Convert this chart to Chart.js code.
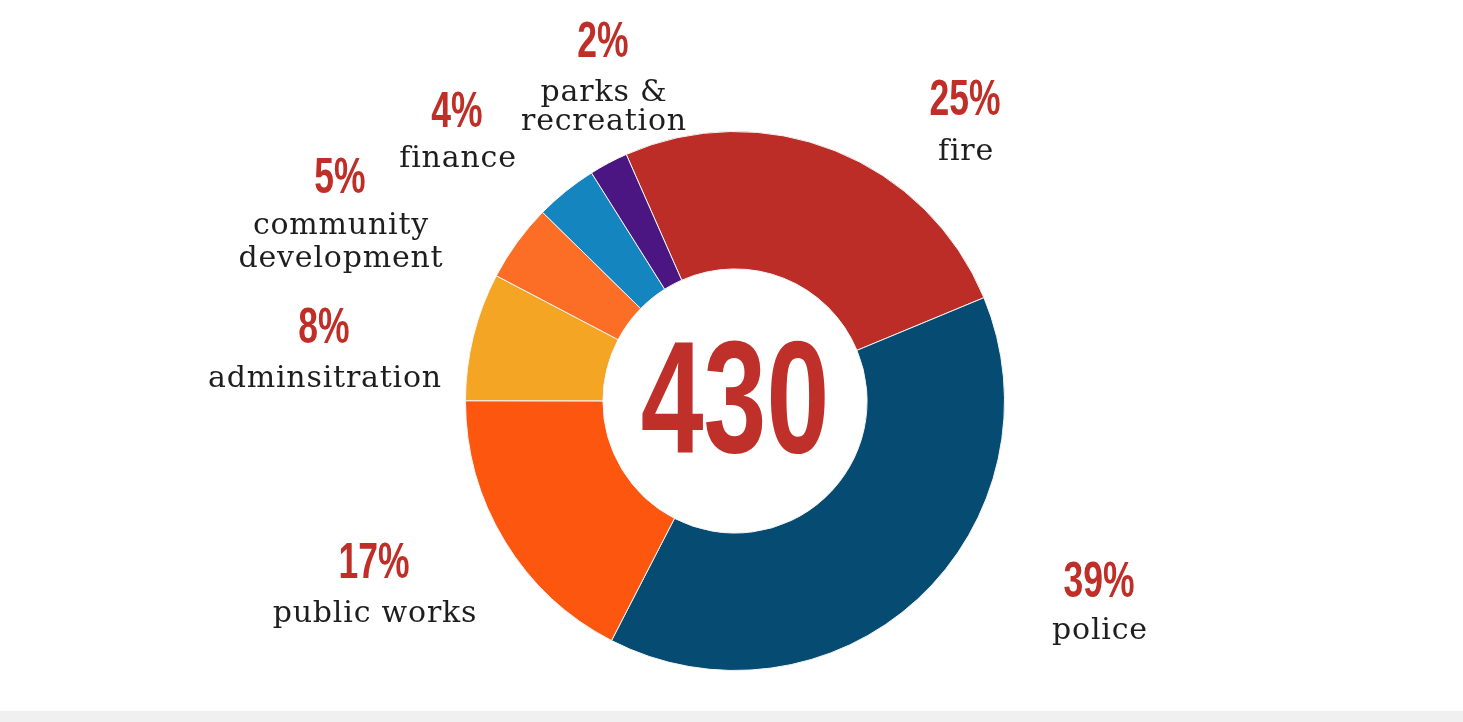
<!DOCTYPE html>
<html>
<head>
<meta charset="utf-8">
<script src="https://cdn.jsdelivr.net/npm/chart.js@4/dist/chart.umd.min.js"></script>
<style>
    html, body { margin: 0; padding: 0; background: #f0f0f0; }
    #wrap { width: 1463px; height: 711px; background: #ffffff; }
</style>
</head>
<body>
<div id="wrap"><canvas id="myChart" width="1463" height="711"></canvas></div>
<script>
"use strict";

// departments, clockwise from the top of the ring
var departments = ['fire', 'police', 'public works', 'adminsitration', 'community development', 'finance', 'parks & recreation'];
var headcount = [109, 167, 75, 33, 20, 16, 10];
var pctLabels = ['25%', '39%', '17%', '8%', '5%', '4%', '2%'];
var nameLines = [['fire'], ['police'], ['public works'], ['adminsitration'], ['community', 'development'], ['finance'], ['parks &', 'recreation']];
var totalCount = 430;

var sliceColors = ['#bb2d26', '#064c72', '#fc560f', '#f4a523', '#fc6d26', '#1585c0', '#4b1681'];

// label placement: [dx from centre, pct baseline dy, name baseline dy, line gap]
var labelSpots = [
    [230, -286, -241, 32],
    [364, 196, 238, 32],
    [-361, 177, 221, 32],
    [-411, -58, -14, 32],
    [-395, -208, -167, 33],
    [-278, -274, -234, 32],
    [-132, -344, -300, 29]
];

function condensedText(ctx, text, x, y, size, squeeze)
{
    ctx.save();
    ctx.font = 'bold ' + size + 'px "Liberation Sans", Arial, sans-serif';
    ctx.textAlign = 'center';
    ctx.textBaseline = 'alphabetic';
    ctx.translate(x, y);
    ctx.scale(squeeze, 1);
    ctx.fillText(text, 0, 0);
    ctx.restore();
}

var labelPlugin = {
    id: 'deptLabels',
    afterDraw: function(chart) {
        var ctx = chart.ctx;
        var arc = chart.getDatasetMeta(0).data[0];
        var cx = arc.x;
        var cy = arc.y;

        ctx.save();
        ctx.fillStyle = '#c0302a';
        condensedText(ctx, String(totalCount), cx, cy + 51, 159, 0.71);

        for(var i = 0; i < pctLabels.length; i++)
        {
            var spot = labelSpots[i];
            ctx.fillStyle = '#bf2f28';
            condensedText(ctx, pctLabels[i], cx + spot[0], cy + spot[1], 50, 0.71);

            ctx.save();
            ctx.fillStyle = '#1e1e1e';
            ctx.font = '30px "DejaVu Serif", serif';
            ctx.letterSpacing = '0.8px';
            ctx.textAlign = 'center';
            ctx.textBaseline = 'alphabetic';
            for(var j = 0; j < nameLines[i].length; j++)
            {
                ctx.fillText(nameLines[i][j], cx + spot[0] + 1, cy + spot[2] + j * spot[3]);
            }
            ctx.restore();
        }
        ctx.restore();
    }
};

var ctx = document.getElementById('myChart').getContext('2d');

var deptChart = new Chart(ctx, {
    type: 'doughnut',
    data: {
        labels: departments,
        datasets: [{
            data: headcount,
            backgroundColor: sliceColors,
            borderColor: '#f4f4f4',
            borderWidth: 1
        }]
    },
    options: {
        responsive: false,
        animation: false,
        rotation: -23.8,
        cutout: '49%',
        layout: {
            padding: { top: 131, bottom: 40, left: 465, right: 458 }
        },
        plugins: {
            legend: { display: false },
            tooltip: { enabled: false }
        }
    },
    plugins: [labelPlugin]
});
</script>
</body>
</html>
